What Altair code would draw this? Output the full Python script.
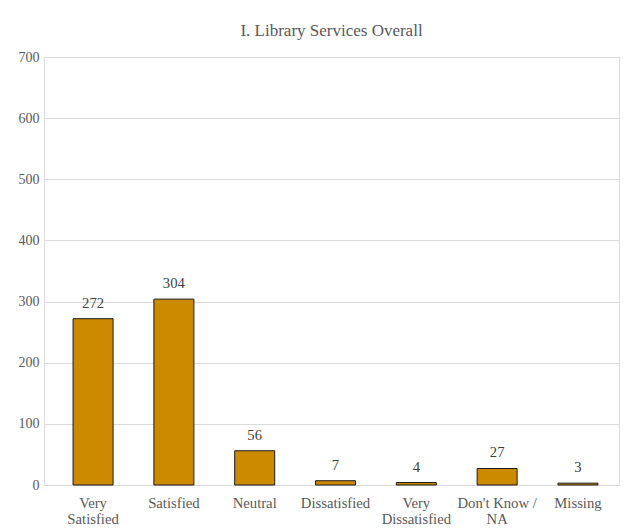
import altair as alt
import pandas as pd

categories = ["Very Satisfied", "Satisfied", "Neutral", "Dissatisfied",
              "Very Dissatisfied", "Don't Know / NA", "Missing"]
counts = [272, 304, 56, 7, 4, 27, 3]
y_ticks = [0, 100, 200, 300, 400, 500, 600, 700]

df = pd.DataFrame({"category": categories, "count": counts})

FONT = "Liberation Serif"
GRAY = "#595959"

label_expr = (
    "datum.label == 'Very Satisfied' ? ['Very', 'Satisfied'] : "
    "datum.label == 'Very Dissatisfied' ? ['Very', 'Dissatisfied'] : "
    "datum.label == \"Don't Know / NA\" ? [\"Don't Know /\", 'NA'] : datum.label"
)

x = alt.X("category:N", sort=categories, title=None,
          scale=alt.Scale(paddingInner=0.505, paddingOuter=0.31, align=0.58),
          axis=alt.Axis(labelAngle=0, labelExpr=label_expr, ticks=False,
                        grid=False,
                        domainColor="#d9d9d9", labelFont=FONT, labelFontSize=14.7,
                        labelColor=GRAY, labelPadding=10, labelLineHeight=16,
                        labelBaseline="top"))
y = alt.Y("count:Q", title=None,
          scale=alt.Scale(domain=[0, 700], nice=False),
          axis=alt.Axis(values=y_ticks, ticks=False, domain=False,
                        gridColor="#d9d9d9", labelFont=FONT, labelFontSize=14,
                        labelColor=GRAY, labelPadding=5))

bars = alt.Chart(df).mark_bar(color="#CC8A00", stroke="#1a1a1a",
                              strokeWidth=1).encode(x=x, y=y)
text = alt.Chart(df).mark_text(dy=-8, baseline="bottom", font=FONT,
                               fontSize=14.7, color="#404040").encode(
    x=alt.X("category:N", sort=categories),
    y="count:Q", text="count:Q")

chart = (bars + text).properties(
    width=575, height=428,
    title=alt.TitleParams("I. Library Services Overall", font=FONT,
                          fontSize=17, fontWeight="normal", color=GRAY,
                          anchor="middle", offset=10),
    autosize=alt.AutoSizeParams(type="none"),
    padding={"left": 36, "top": 49, "right": 2, "bottom": 46},
).configure_view(strokeOpacity=0, strokeWidth=0).configure_axisY(
    domain=False).configure(background="white")

chart.save("out.html", embed_options={"renderer": "svg", "actions": False})
